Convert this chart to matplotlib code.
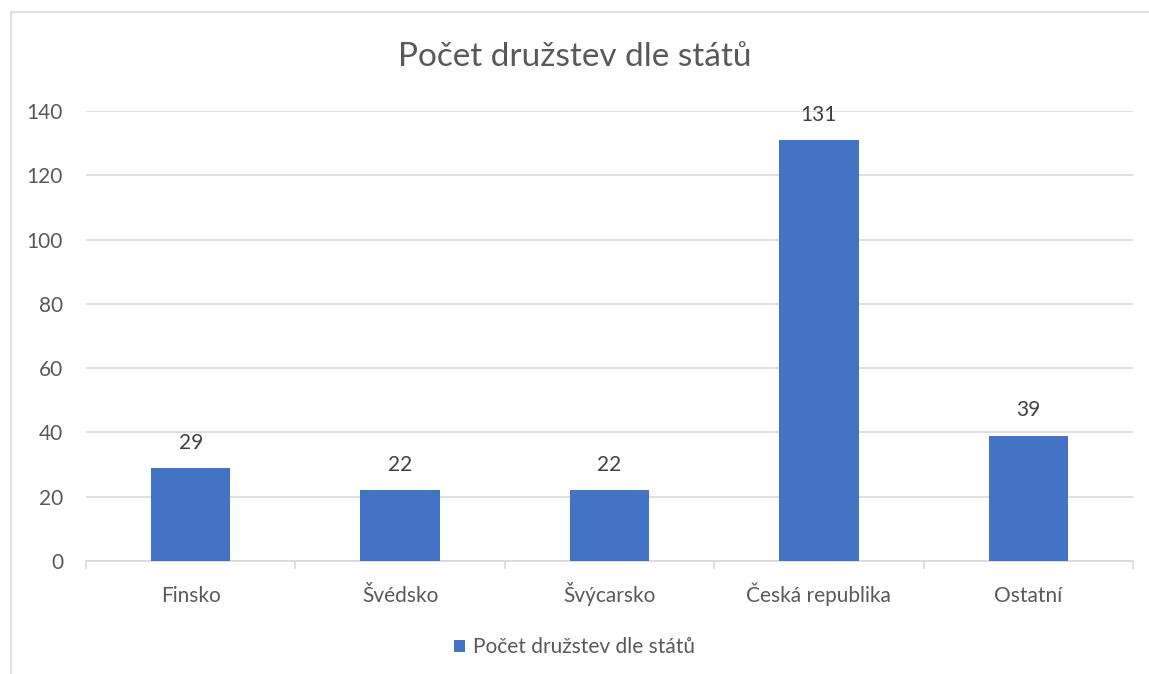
import matplotlib.pyplot as plt
from matplotlib.patches import Rectangle
from matplotlib.ticker import FixedLocator

# data
states = ['Finsko', 'Švédsko', 'Švýcarsko', 'Česká republika', 'Ostatní']
counts = [29, 22, 22, 131, 39]
series_name = 'Počet družstev dle států'

plt.rcParams['font.family'] = ['Lato', 'DejaVu Sans']

fig = plt.figure(figsize=(11.49, 6.74), dpi=100)
ax = fig.add_axes([86 / 1149, 1 - 561 / 674, (1133 - 86) / 1149, 450 / 674])

# chart border (partly cropped in the original)
fig.patches.append(Rectangle((10.5 / 1149, -0.5), 2, 1.5 - 12 / 674,
                             transform=fig.transFigure, fill=False,
                             edgecolor='#D9D9D9', linewidth=1.2))

x = range(len(states))
bars = ax.bar(x, counts, width=0.38, color='#4472C4', label=series_name, zorder=3)

for xi, v in zip(x, counts):
    ax.annotate(str(v), (xi, v), xytext=(0, 11), textcoords='offset points',
                ha='center', va='bottom', fontsize=15, color='#404040')

ax.set_xlim(-0.5, len(states) - 0.5)
ax.set_ylim(0, 140)
ax.set_yticks(range(0, 141, 20))
ax.yaxis.grid(True, color='#D9D9D9', linewidth=1.2, zorder=0)
ax.set_axisbelow(True)

ax.set_xticks(list(x))
ax.set_xticklabels(states)
for lbl in ax.get_xticklabels():
    lbl.set_va('baseline')
ax.xaxis.set_minor_locator(FixedLocator([i - 0.5 for i in range(len(states) + 1)]))
ax.tick_params(axis='x', which='major', length=0, pad=29.5, labelsize=15, labelcolor='#595959')
ax.tick_params(axis='x', which='minor', length=6, color='#D9D9D9', width=1.2)
ax.tick_params(axis='y', length=0, pad=16.5, labelsize=15, labelcolor='#595959')

for s in ['top', 'right', 'left']:
    ax.spines[s].set_visible(False)
ax.spines['bottom'].set_color('#D9D9D9')
ax.spines['bottom'].set_linewidth(1.2)

fig.text(0.5, 1 - 57 / 674, series_name, ha='center', va='center',
         fontsize=24, color='#595959')

fig.legend(handles=[bars], labels=[series_name], loc='center',
           bbox_to_anchor=(0.5, 1 - 647 / 674), frameon=False, fontsize=15,
           handlelength=0.5, handleheight=0.5, handletextpad=0.4,
           labelcolor='#595959')

fig.savefig('out.png', dpi=100, facecolor='white')
